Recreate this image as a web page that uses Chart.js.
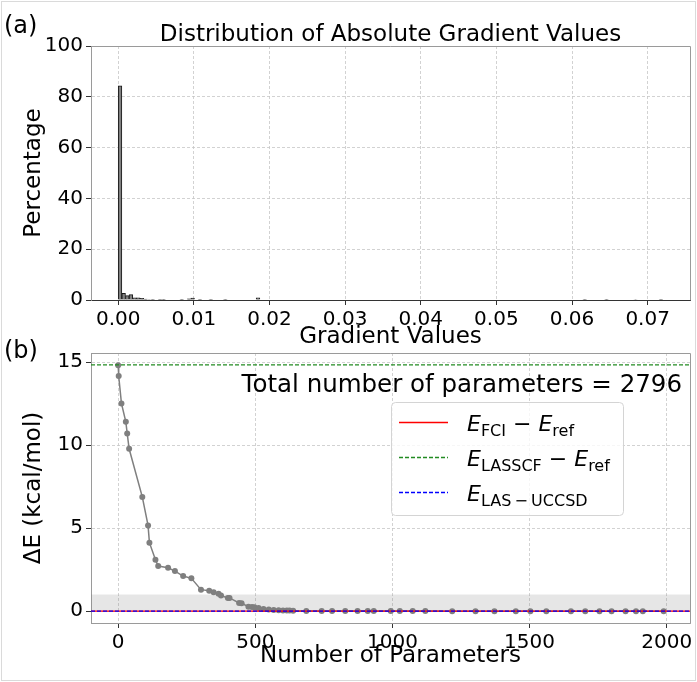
<!DOCTYPE html>
<html>
<head>
<meta charset="utf-8">
<script src="https://cdn.jsdelivr.net/npm/chart.js@4.4.1/dist/chart.umd.min.js"></script>
<style>
  html, body { margin: 0; padding: 0; background: #fff; }
  #wrap { position: relative; width: 697px; height: 682px; }
  #wrap canvas { position: absolute; left: 0; top: 0; }
  #frame { position: absolute; left: 1px; top: 1px; width: 693px; height: 678px; border: 1px solid #dadada; pointer-events: none; }
</style>
</head>
<body>
<div id="wrap">
  <canvas id="histChart" width="697" height="682"></canvas>
  <canvas id="convChart" width="697" height="682"></canvas>
  <div id="frame"></div>
</div>
<script>
// ---- (a) histogram of |gradient| values ----
const binCount = 150;
const binMax = 0.072;
const histBins    = [0,    1,   2,   3,   4,   5,   6,   7,   8,   9,   11,   12,  17,  19,  20,  22,   25,   29,  38,  128, 134, 142, 149];
const histPercent = [84.3, 2.6, 1.7, 2.1, 0.9, 0.9, 0.7, 0.4, 0.2, 0.1, 0.15, 0.3, 0.3, 0.5, 0.8, 0.15, 0.15, 0.1, 0.9, 0.1, 0.1, 0.2, 0.1];
const gradTicks = [0, 0.01, 0.02, 0.03, 0.04, 0.05, 0.06, 0.07];
const pctTicks = [0, 20, 40, 60, 80, 100];

// ---- (b) energy error vs number of parameters ----
const paramCounts = [0, 2, 12, 28, 33, 40, 88, 109, 114, 136, 146, 182, 207, 237, 267, 302, 332, 348, 366, 375,
  400, 406, 441, 450, 475, 488, 497, 512, 530, 549, 567, 585, 601, 615, 625, 638, 686, 742, 780, 828,
  873, 910, 932, 994, 1027, 1074, 1120, 1218, 1303, 1372, 1450, 1503, 1561, 1651, 1703, 1755, 1799, 1850, 1888, 1913, 1989];
const deltaE = [14.82, 14.17, 12.52, 11.41, 10.71, 9.79, 6.89, 5.17, 4.13, 3.10, 2.72, 2.62, 2.42, 2.12, 1.98, 1.30, 1.24, 1.14, 1.06, 0.94,
  0.80, 0.80, 0.50, 0.48, 0.27, 0.26, 0.24, 0.20, 0.14, 0.10, 0.08, 0.06, 0.05, 0.04, 0.04, 0.03, 0.02, 0.02, 0.02, 0.01,
  0.01, 0.01, 0.01, 0.01, 0.01, 0.01, 0.01, 0.0, 0.0, 0.0, 0.0, 0.0, 0.0, 0.0, 0.0, 0.0, 0.0, 0.0, 0.0, 0.0, 0.0];
const eFci = 0;
const eLasscf = 14.84;
const eLasUccsd = 0;
const chemAccuracy = 1.0;
const paramTicks = [0, 500, 1000, 1500, 2000];
const energyTicks = [0, 5, 10, 15];
const totalParams = 2796;

const FONT = '"DejaVu Sans", sans-serif';
const GRID = '#c6c6c6';
const SPINE = '#9a9a9a';
const TICK_SIZE = 20;
const LABEL_SIZE = 23;

// histogram table built from the bin list
const binWidth = binMax / binCount;
const histValues = new Array(binCount).fill(0);
histBins.forEach((b, i) => { histValues[b] = histPercent[i]; });
const histData = histValues.map((v, i) => ({ x: (i + 0.5) * binWidth, y: v }));

function fixedTicks(list) {
  return (scale) => { scale.ticks = list.map((v) => ({ value: v })); };
}

function axisStyle(opts) {
  return {
    type: 'linear',
    min: opts.min,
    max: opts.max,
    offset: false,
    afterBuildTicks: fixedTicks(opts.ticks),
    afterFit: opts.fit,
    grid: { offset: false, color: GRID, lineWidth: 0.8, tickLength: 5, tickColor: '#333', tickWidth: 1, tickBorderDash: [] },
    border: { color: opts.borderColor || SPINE, width: 1, dash: [3, 2] },
    ticks: { color: '#000', font: { family: FONT, size: TICK_SIZE }, padding: 3, callback: opts.fmt, maxRotation: 0, autoSkip: false },
    title: { display: true, text: opts.title, color: '#000', font: { family: FONT, size: LABEL_SIZE }, padding: opts.titlePad },
  };
}

// draws the top and right spines too
const spinePlugin = {
  id: 'spines',
  afterDraw(chart) {
    const { ctx, chartArea: a } = chart;
    ctx.save();
    ctx.strokeStyle = SPINE;
    ctx.lineWidth = 1;
    ctx.beginPath();
    ctx.moveTo(a.left, a.top + 0.5);
    ctx.lineTo(a.right + 0.5, a.top + 0.5);
    ctx.lineTo(a.right + 0.5, a.bottom);
    ctx.stroke();
    ctx.restore();
  },
};

function textPlugin(items) {
  return {
    id: 'texts',
    afterDraw(chart) {
      const ctx = chart.ctx;
      ctx.save();
      ctx.fillStyle = '#000';
      ctx.textBaseline = 'alphabetic';
      items.forEach((t) => {
        ctx.font = t.size + 'px ' + FONT;
        ctx.textAlign = t.align || 'left';
        ctx.fillText(t.text, t.x, t.y);
      });
      ctx.restore();
    },
  };
}

new Chart(document.getElementById('histChart'), {
  type: 'bar',
  data: {
    datasets: [{
      data: histData,
      backgroundColor: '#808080',
      borderColor: '#1a1a1a',
      borderWidth: 1,
      barPercentage: 1,
      categoryPercentage: 1,
    }],
  },
  options: {
    responsive: false,
    animation: false,
    layout: { padding: { left: 0, right: 7, top: 46, bottom: 331 } },
    plugins: { legend: { display: false }, tooltip: { enabled: false } },
    scales: {
      x: axisStyle({ min: -0.0036, max: 0.0756, ticks: gradTicks, title: 'Gradient Values', borderColor: '#333',
        fmt: (v) => Number(v).toFixed(2), titlePad: { top: 0, bottom: 0 },
        fit: (s) => { s.height = 51; } }),
      y: axisStyle({ min: 0, max: 100, ticks: pctTicks, title: 'Percentage',
        fmt: (v) => String(v), titlePad: { top: 20, bottom: 0 },
        fit: (s) => { s.width = 91; } }),
    },
  },
  plugins: [spinePlugin, textPlugin([
    { text: '(a)', x: 4, y: 33, size: 24 },
    { text: 'Distribution of Absolute Gradient Values', x: 390.5, y: 41, size: LABEL_SIZE, align: 'center' },
  ])],
});

const xLeft = -99, xRight = 2085;
const hline = (y) => [{ x: xLeft, y: y }, { x: xRight, y: y }];

const legendItems = [
  { ds: 1, parts: [['E', 'it'], ['FCI', 'sub'], [' \u2212 ', 'rm'], ['E', 'it'], ['ref', 'sub']] },
  { ds: 2, parts: [['E', 'it'], ['LASSCF', 'sub'], [' \u2212 ', 'rm'], ['E', 'it'], ['ref', 'sub']] },
  { ds: 3, parts: [['E', 'it'], ['LAS\u2009\u2212\u2009UCCSD', 'sub']] },
];

const mathLegend = {
  id: 'mathLegend',
  afterDraw(chart) {
    const ctx = chart.ctx;
    const box = { x: 391.5, y: 402.5, w: 232, h: 113 };
    ctx.save();
    ctx.beginPath();
    ctx.roundRect(box.x, box.y, box.w, box.h, 4);
    ctx.fillStyle = 'rgba(255,255,255,0.8)';
    ctx.fill();
    ctx.strokeStyle = '#d4d4d4';
    ctx.lineWidth = 1;
    ctx.stroke();
    legendItems.forEach((item, i) => {
      const ds = chart.data.datasets[item.ds];
      const rowY = 422.5 + i * 35;
      ctx.beginPath();
      ctx.setLineDash(ds.borderDash || []);
      ctx.strokeStyle = ds.borderColor;
      ctx.lineWidth = ds.borderWidth;
      ctx.moveTo(399, rowY);
      ctx.lineTo(448, rowY);
      ctx.stroke();
      ctx.setLineDash([]);
      let x = 467;
      const base = rowY + 8;
      ctx.fillStyle = '#000';
      ctx.textAlign = 'left';
      item.parts.forEach(([t, s]) => {
        let dy = 0;
        if (s === 'it') ctx.font = 'italic 22px ' + FONT;
        else if (s === 'sub') { ctx.font = '16px ' + FONT; dy = 5; }
        else ctx.font = '22px ' + FONT;
        ctx.fillText(t, x, base + dy);
        x += ctx.measureText(t).width;
      });
    });
    ctx.restore();
  },
};

new Chart(document.getElementById('convChart'), {
  type: 'line',
  data: {
    datasets: [
      {
        data: paramCounts.map((p, i) => ({ x: p, y: deltaE[i] })),
        borderColor: '#7f7f7f', backgroundColor: '#7f7f7f', borderWidth: 1.5,
        pointRadius: 3, pointBorderWidth: 0, pointBackgroundColor: '#7f7f7f', order: 4,
      },
      { data: hline(eFci), borderColor: '#ff0000', borderWidth: 1.3, pointRadius: 0, order: 3 },
      { data: hline(eLasscf), borderColor: '#228b22', borderWidth: 1.3, borderDash: [4, 2], pointRadius: 0, order: 2 },
      { data: hline(eLasUccsd), borderColor: '#0000ff', borderWidth: 1.3, borderDash: [4, 2], pointRadius: 0, order: 1 },
      {
        data: hline(chemAccuracy), borderWidth: 0, pointRadius: 0,
        fill: { value: 0 }, backgroundColor: 'rgba(128,128,128,0.2)', order: 5,
      },
    ],
  },
  options: {
    responsive: false,
    animation: false,
    layout: { padding: { left: 0, right: 7, top: 353, bottom: 12 } },
    plugins: { legend: { display: false }, tooltip: { enabled: false } },
    scales: {
      x: axisStyle({ min: xLeft, max: xRight, ticks: paramTicks, title: 'Number of Parameters',
        fmt: (v) => String(v), titlePad: { top: 0, bottom: 0 },
        fit: (s) => { s.height = 47; } }),
      y: axisStyle({ min: -0.71, max: 15.56, ticks: energyTicks, title: '\u0394E (kcal/mol)',
        fmt: (v) => String(v), titlePad: { top: 20, bottom: 0 },
        fit: (s) => { s.width = 91; } }),
    },
  },
  plugins: [spinePlugin, mathLegend, textPlugin([
    { text: '(b)', x: 4, y: 358, size: 24 },
    { text: 'Total number of parameters = ' + totalParams, x: 682, y: 392, size: 24.5, align: 'right' },
  ])],
});
</script>
</body>
</html>
